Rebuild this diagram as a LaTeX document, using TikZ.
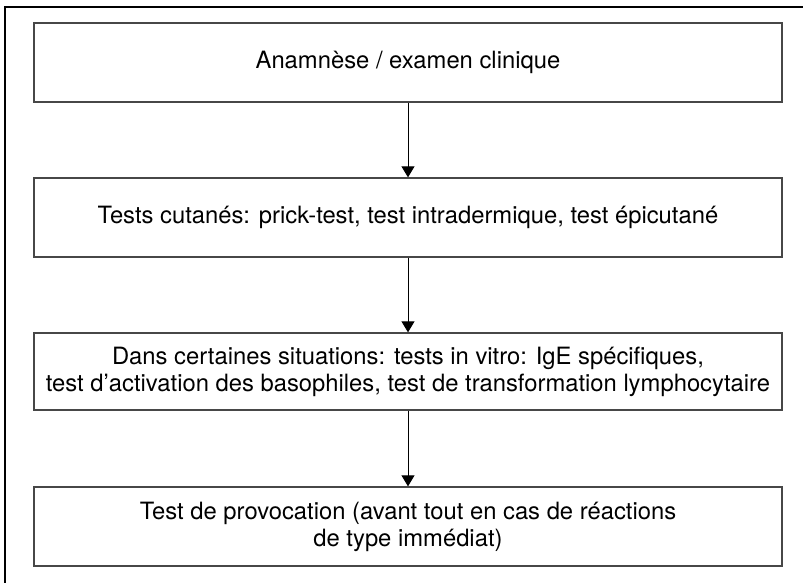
\documentclass[tikz,border=0pt]{standalone}
\usepackage{fontspec}
\setmainfont{TeX Gyre Heros}
\usetikzlibrary{arrows.meta}
\begin{document}
\begin{tikzpicture}[x=1pt,y=-1pt,
  stepbox/.style={draw=black!72, line width=1.3pt, minimum width=748pt, minimum height=79pt,
    inner sep=0pt, align=center, font=\fontsize{23.8pt}{27pt}\selectfont},
  flow/.style={draw=black, line width=1pt, -{Triangle[width=13pt,length=11pt]}}]
\useasboundingbox (0,0) rectangle (803,583);
\draw[line width=1.5pt] (5,600) -- (5,7) -- (820,7);
\node[stepbox] (b1) at (408,62.5) {Anamnèse / examen clinique};
\node[stepbox] (b2) at (408,217.5) {Tests cutanés: prick-test, test intradermique, test épicutané};
\node[stepbox, minimum height=77pt] (b3) at (408,371.5) {Dans certaines situations: tests in vitro: IgE spécifiques,\\test d’activation des basophiles, test de transformation lymphocytaire};
\node[stepbox] (b4) at (408,526.5) {Test de provocation (avant tout en cas de réactions\\de type immédiat)};
\draw[flow] (b1) -- (b2);
\draw[flow] (b2) -- (b3);
\draw[flow] (b3) -- (b4);
\end{tikzpicture}
\end{document}
